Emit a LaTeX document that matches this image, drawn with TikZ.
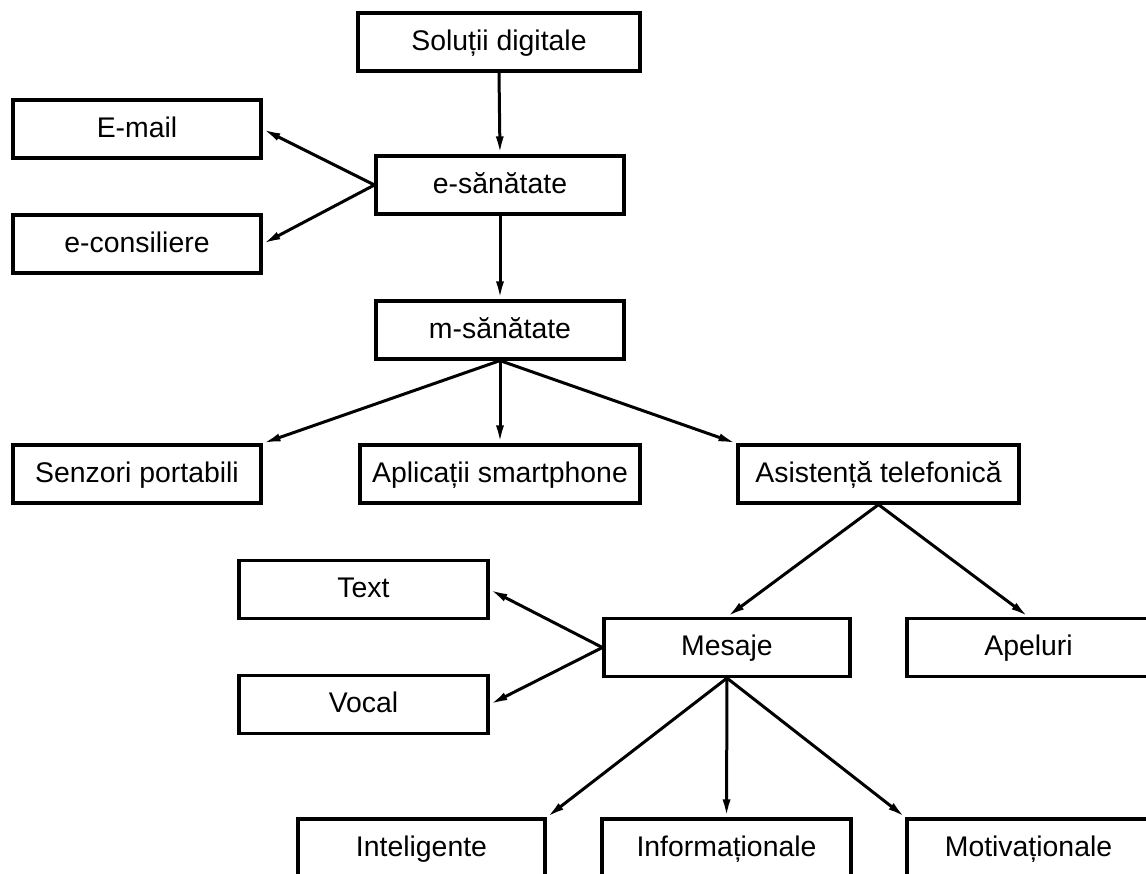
\documentclass[tikz,border=0pt]{standalone}
\usepackage{fontspec}
\setmainfont{Liberation Sans}
\usetikzlibrary{arrows.meta}
\tikzset{
  box/.style={draw, line width=3.2pt, inner sep=0pt, minimum height=58pt,
    text height=20pt, text depth=4pt, font=\fontsize{28.4}{34}\selectfont},
  conn/.style={line width=3pt, -{Latex[length=18pt,width=8pt]}}
}
\begin{document}
\begin{tikzpicture}[x=1pt,y=-1pt]
\useasboundingbox (0,0) rectangle (1146,873);
\clip (0,0) rectangle (1146,873);
\fill[white] (0,0) rectangle (1146,873);
% nodes (centre x, centre y)
\node[box, minimum width=282pt] (sol) at (499,42) {Soluții digitale};
\node[box, minimum width=248pt] (esan) at (500,185) {e-sănătate};
\node[box, minimum width=248pt] (email) at (137,129) {E-mail};
\node[box, minimum width=248pt] (econs) at (137,244) {e-consiliere};
\node[box, minimum width=248pt] (msan) at (500,330) {m-sănătate};
\node[box, minimum width=248pt] (senz) at (137,474) {Senzori portabili};
\node[box, minimum width=280pt] (apl) at (500,474) {Aplicații smartphone};
\node[box, minimum width=281pt] (asist) at (878.5,474) {Asistență telefonică};
\node[box, minimum width=249pt] (text) at (363.5,589.5) {Text};
\node[box, minimum width=249pt] (vocal) at (363.5,704.5) {Vocal};
\node[box, minimum width=246pt] (mes) at (727,647.5) {Mesaje};
\node[box, minimum width=243pt] (apel) at (1028.5,647.5) {Apeluri};
\node[box, minimum width=247pt] (intel) at (421.5,848) {Inteligente};
\node[box, minimum width=249pt] (info) at (726.5,848) {Informaționale};
\node[box, minimum width=243pt] (motiv) at (1028.5,848) {Motivaționale};
% connectors
\draw[conn] (sol.south) -- (esan.north);
\draw[conn] (esan.west) -- (email.east);
\draw[conn] (esan.west) -- (econs.east);
\draw[conn] (esan.south) -- (msan.north);
\draw[conn] (msan.south) -- (senz.north east);
\draw[conn] (msan.south) -- (apl.north);
\draw[conn] (msan.south) -- (asist.north west);
\draw[conn] (asist.south) -- (mes.north);
\draw[conn] (asist.south) -- (apel.north);
\draw[conn] (mes.west) -- (text.east);
\draw[conn] (mes.west) -- (vocal.east);
\draw[conn] (mes.south) -- (intel.north east);
\draw[conn] (mes.south) -- (info.north);
\draw[conn] (mes.south) -- (motiv.north west);
\end{tikzpicture}
\end{document}
